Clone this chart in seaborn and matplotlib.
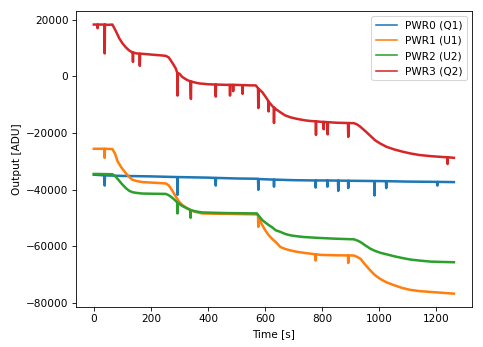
import matplotlib
matplotlib.use("Agg")
import matplotlib.pyplot as plt
import seaborn as sns
import pandas as pd

# PWR3 (Q2)
t_pwr3 = [0, 12, 13, 14, 37, 38, 39, 50, 65, 77, 89, 100, 112, 123, 135, 136, 137, 138,
          150, 160, 161, 162, 170, 200, 230, 252, 262, 269, 278, 287, 292, 293, 294, 300,
          310, 325, 338, 339, 340, 341, 355, 369, 400, 426, 427, 428, 460, 476, 477, 478,
          487, 488, 489, 520, 521, 522, 550, 567, 575, 576, 577, 590, 600, 611, 612, 613,
          625, 630, 631, 632, 637, 654, 670, 689, 710, 736, 760, 777, 778, 779, 794, 804,
          805, 806, 818, 819, 820, 850, 890, 891, 892, 911, 922, 934, 950, 969, 985, 1004,
          1025, 1051, 1080, 1109, 1140, 1179, 1220, 1238, 1239, 1240, 1261]
v_pwr3 = [18300, 18300, 17000, 18300, 18300, 8100, 18300, 18200, 18300, 16000, 13460, 11700,
          10250, 9200, 8460, 8400, 5100, 8400, 8100, 8000, 3700, 8000, 7960, 7700, 7450, 7250,
          6700, 5700, 4300, 2750, 1300, -6800, 1100, 900, -240, -1200, -1800, -5600, -8000,
          -1800, -2200, -2500, -2800, -2900, -7150, -2900, -3000, -3000, -6800, -3000, -3000,
          -5240, -3000, -3100, -6200, -3100, -3200, -3200, -4200, -11200, -4400, -5600, -7000,
          -8700, -12400, -9000, -10500, -11000, -16500, -11100, -11550, -12750, -13800, -14500,
          -15000, -15500, -15800, -15900, -20700, -15900, -16070, -16100, -18700, -16100, -16200,
          -20500, -16200, -16400, -16500, -21400, -16500, -16550, -17000, -17860, -19300, -21070,
          -22600, -23800, -24900, -25800, -26600, -27260, -27800, -28200, -28500, -28600, -31000,
          -28600, -28800]

# PWR0 (Q1)
t_pwr0 = [0, 37, 38, 39, 100, 200, 292, 293, 294, 400, 426, 427, 428, 500, 575, 576, 577,
          630, 631, 632, 700, 776, 777, 778, 817, 818, 819, 855, 856, 857, 890, 891, 892,
          982, 983, 984, 1023, 1024, 1025, 1100, 1202, 1203, 1204, 1261]
v_pwr0 = [-34760, -35000, -38600, -35000, -35200, -35360, -35600, -41900, -35600, -35800,
          -35900, -38600, -35900, -36100, -36200, -40100, -36300, -36500, -39000, -36500,
          -36700, -36800, -39300, -36800, -36800, -39000, -36800, -36850, -40500, -36850,
          -36900, -39500, -36900, -37000, -42100, -37000, -37050, -39500, -37050, -37200,
          -37300, -38600, -37300, -37380]

# PWR1 (U1)
t_pwr1 = [0, 37, 38, 39, 65, 75, 83, 97, 112, 123, 135, 150, 170, 210, 252, 262, 269, 278,
          287, 298, 310, 325, 339, 355, 379, 450, 520, 571, 575, 576, 577, 590, 601, 613,
          625, 637, 654, 670, 689, 710, 736, 776, 777, 778, 794, 850, 890, 891, 892, 911,
          922, 934, 950, 969, 985, 1004, 1025, 1051, 1080, 1109, 1140, 1179, 1220, 1261]
v_pwr1 = [-25600, -25600, -28800, -25600, -25700, -27500, -30000, -32300, -34200, -35500,
          -36550, -37000, -37380, -37600, -37860, -38500, -39500, -40900, -42500, -44200,
          -45480, -46500, -47260, -47900, -48450, -48600, -48700, -48800, -49200, -53200,
          -50000, -52600, -54500, -56200, -57500, -58570, -60360, -61000, -61540, -62000,
          -62380, -62900, -65100, -62900, -63100, -63250, -63300, -66000, -63300, -63330,
          -63800, -64500, -66500, -68690, -70300, -71670, -72800, -73800, -74800, -75480,
          -75900, -76200, -76500, -76800]

# PWR2 (U2)
t_pwr2 = [0, 65, 75, 83, 97, 112, 123, 135, 150, 170, 210, 252, 262, 269, 278, 287, 292,
          293, 294, 310, 325, 338, 339, 340, 355, 379, 450, 520, 571, 590, 601, 613, 625,
          637, 654, 670, 689, 710, 736, 794, 850, 911, 922, 934, 950, 969, 985, 1004, 1025,
          1051, 1080, 1109, 1140, 1179, 1220, 1261]
v_pwr2 = [-34500, -34600, -35300, -36200, -37900, -39500, -40400, -40950, -41200, -41430,
          -41500, -41550, -42000, -42500, -43200, -44050, -44600, -48450, -44700, -45830,
          -46600, -47200, -50000, -47300, -47700, -48100, -48300, -48400, -48450, -50830,
          -51700, -52600, -53400, -54400, -55000, -55700, -56200, -56500, -56800, -57140,
          -57400, -57600, -58000, -58570, -59700, -60950, -61700, -62380, -62900, -63570,
          -64200, -64760, -65100, -65480, -65600, -65700]

labels = ["PWR0 (Q1)", "PWR1 (U1)", "PWR2 (U2)", "PWR3 (Q2)"]
series = [(t_pwr0, v_pwr0), (t_pwr1, v_pwr1), (t_pwr2, v_pwr2), (t_pwr3, v_pwr3)]

frames = []
for lab, (t, v) in zip(labels, series):
    frames.append(pd.DataFrame({"Time": t, "Output": v, "channel": lab}))
df = pd.concat(frames, ignore_index=True)

palette = ["#1f77b4", "#ff7f0e", "#2ca02c", "#d62728"]

DPI = 483 / 6.4
fig = plt.figure(figsize=(6.4, 347 / DPI), dpi=DPI)
ax = fig.add_axes([0.157, 0.115, 0.82, 0.853])
sns.lineplot(data=df, x="Time", y="Output", hue="channel", hue_order=labels,
             palette=palette, estimator=None, sort=False, linewidth=2.4, ax=ax)

leg = ax.get_legend()
handles = leg.legend_handles
texts = [t.get_text() for t in leg.texts]
leg.remove()
for h in handles:
    h.set_linewidth(1.5)
ax.legend(handles, texts, loc="upper right")

ax.set_xlabel("Time [s]")
ax.set_ylabel("Output [ADU]")
ax.set_xticks([0, 200, 400, 600, 800, 1000, 1200])
ax.set_yticks([20000, 0, -20000, -40000, -60000, -80000])

fig.savefig("out.png", dpi=DPI)
